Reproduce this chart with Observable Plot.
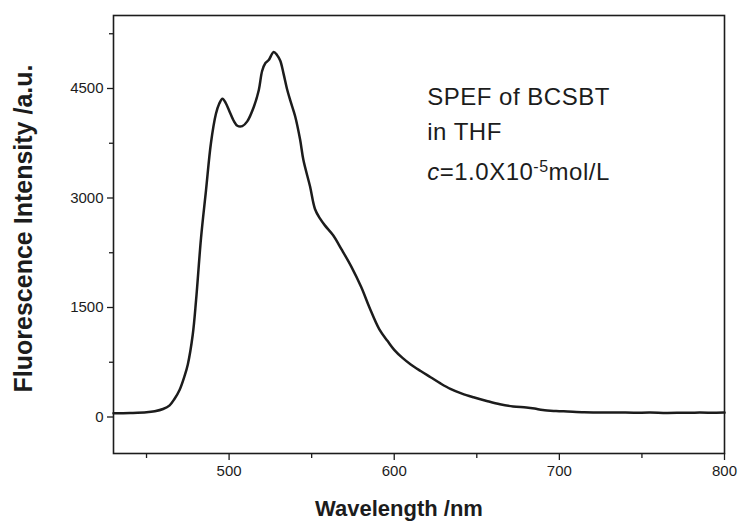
<!DOCTYPE html>
<html>
<head>
<meta charset="utf-8">
<script src="https://cdn.jsdelivr.net/npm/d3@7"></script>
<script src="https://cdn.jsdelivr.net/npm/@observablehq/plot@0.6"></script>
<style>
  html, body { margin: 0; padding: 0; background: #fff; }
  #chart svg { display: block; font-family: "Liberation Sans", Arial, sans-serif; }
  #chart .note text { letter-spacing: 0.5px; }
</style>
</head>
<body>
<div id="chart"></div>
<script>
// Data
const wavelength = [430,440,450,455,460,464,467,470,473,475,478,480,483,486,489,492,494,496,498,500,503,505,508,511,515,518,520,522,524,527,529,531,533,535,537,540,543,545,549,552,555,558,563,568,574,580,585,591,596,600,605,610,616,622,628,634,641,648,656,664,672,680,685,690,698,705,715,725,735,745,755,765,775,785,795,800];
const intensity  = [50,55,65,80,110,160,250,370,560,720,1130,1600,2450,3100,3750,4150,4290,4360,4300,4200,4050,3990,3985,4050,4250,4480,4740,4850,4890,5000,4960,4880,4700,4500,4340,4120,3800,3520,3160,2850,2720,2625,2490,2300,2060,1780,1500,1200,1040,920,810,720,630,545,460,385,320,270,220,175,145,130,115,95,82,75,65,60,62,58,60,55,58,60,58,60];
const xMajorTicks = [500, 600, 700, 800];
const xMinorTicks = [450, 550, 650, 750];
const yMajorTicks = [0, 1500, 3000, 4500];
const yMinorTicks = [750, 2250, 3750, 5250];
const xTitle = "Wavelength /nm";
const yTitle = "Fluorescence Intensity /a.u.";
const noteLines = ["SPEF of BCSBT", "in THF", "c=1.0X10-5mol/L"];
const noteY = [4380, 3900, 3350];

const data = wavelength.map((w, i) => ({w, v: intensity[i]}));
const ink = "#1c1c1c";

const chart = Plot.plot({
  width: 738,
  height: 528,
  marginLeft: 113,
  marginRight: 14,
  marginTop: 15,
  marginBottom: 75,
  style: {fontFamily: "'Liberation Sans', Arial, sans-serif", color: ink, background: "#fff"},
  x: {domain: [430, 800]},
  y: {domain: [-500, 5500]},
  marks: [
    Plot.axisX({ticks: xMajorTicks, tickSize: 7, tickPadding: 5, fontSize: 15, tickFormat: d => String(d), label: null, stroke: ink, strokeWidth: 1.3}),
    Plot.axisX({ticks: xMinorTicks, tickSize: 5, tickFormat: () => "", label: null, stroke: ink, strokeWidth: 1.3}),
    Plot.axisY({ticks: yMajorTicks, tickSize: 6, tickPadding: 4, fontSize: 15, tickFormat: d => String(d), label: null, stroke: ink, strokeWidth: 1.3}),
    Plot.axisY({ticks: yMinorTicks, tickSize: 4, tickFormat: () => "", label: null, stroke: ink, strokeWidth: 1.3}),
    Plot.frame({stroke: ink, strokeWidth: 1.6}),
    Plot.line(data, {x: "w", y: "v", stroke: ink, strokeWidth: 2.5, curve: "catmull-rom"}),
    Plot.text([xTitle], {frameAnchor: "bottom", lineAnchor: "middle", dy: 55, dx: -20, fontSize: 22, fontWeight: "bold", fill: ink}),
    Plot.text([yTitle], {frameAnchor: "left", textAnchor: "middle", rotate: -90, dx: -90, dy: -6, fontSize: 25, fontWeight: "bold", fill: ink}),
    Plot.text(noteLines, {x: 620, y: (d, i) => noteY[i], textAnchor: "start", fontSize: 24, fill: ink, className: "note"})
  ]
});

document.getElementById("chart").appendChild(chart);

// Render the concentration line with italic c and superscript exponent
d3.select(chart).selectAll(".note text").each(function() {
  const t = d3.select(this);
  if (t.text() === noteLines[2]) {
    t.text(null);
    t.append("tspan").attr("font-style", "italic").text("c");
    t.append("tspan").text("=1.0X10");
    t.append("tspan").attr("font-size", 16).attr("dy", "-0.5em").text("-5");
    t.append("tspan").attr("dy", "0.33em").text("mol/L");
  }
});
</script>
</body>
</html>
